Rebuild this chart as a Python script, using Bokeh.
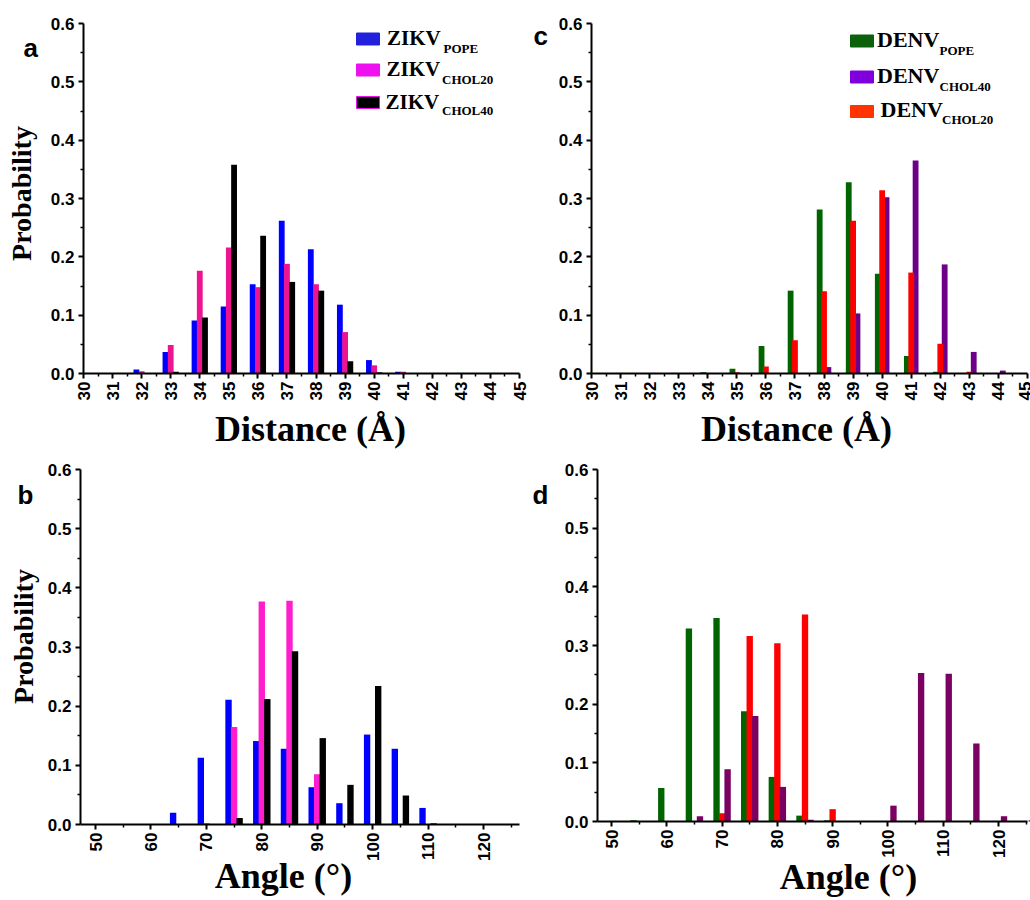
import math
from bokeh.plotting import figure
from bokeh.models import ColumnDataSource, FixedTicker, PrintfTickFormatter, Label, Range1d
from bokeh.layouts import column, row
from bokeh.transform import dodge
from bokeh.embed import file_html
from bokeh.resources import INLINE

# ---------------- data ----------------
dist_ticks = list(range(30, 46))
dist_minor = [t + 0.5 for t in range(30, 45)]
angle_ticks = [50, 60, 70, 80, 90, 100, 110, 120]
angle_minor = [55, 65, 75, 85, 95, 105, 115, 125]
prob_ticks = [0.0, 0.1, 0.2, 0.3, 0.4, 0.5, 0.6]
prob_minor = [0.05, 0.15, 0.25, 0.35, 0.45, 0.55]

zikv_dist_x = [32, 33, 34, 35, 36, 37, 38, 39, 40, 41]
zikv_dist_pope = [0.007, 0.037, 0.091, 0.115, 0.153, 0.262, 0.213, 0.118, 0.023, 0.003]
zikv_dist_chol20 = [0.004, 0.049, 0.176, 0.216, 0.148, 0.188, 0.153, 0.071, 0.014, 0.003]
zikv_dist_chol40 = [0.0, 0.003, 0.096, 0.358, 0.236, 0.157, 0.142, 0.021, 0.002, 0.0]

denv_dist_x = [34, 35, 36, 37, 38, 39, 40, 41, 42, 43, 44]
denv_dist_pope = [0.002, 0.008, 0.047, 0.142, 0.281, 0.328, 0.171, 0.030, 0.003, 0.0, 0.0]
denv_dist_chol20 = [0.0, 0.002, 0.012, 0.057, 0.141, 0.262, 0.314, 0.173, 0.051, 0.003, 0.0]
denv_dist_chol40 = [0.0, 0.0, 0.0, 0.0, 0.011, 0.103, 0.302, 0.365, 0.187, 0.037, 0.005]

zikv_ang_x = [65, 70, 75, 80, 85, 90, 95, 100, 105, 110]
zikv_ang_pope = [0.020, 0.113, 0.211, 0.141, 0.128, 0.063, 0.036, 0.152, 0.128, 0.028]
zikv_ang_chol20 = [0.0, 0.002, 0.165, 0.377, 0.378, 0.085, 0.0, 0.0, 0.0, 0.0]
zikv_ang_chol40 = [0.0, 0.0, 0.011, 0.212, 0.293, 0.146, 0.067, 0.234, 0.049, 0.002]

denv_ang_x = [55, 60, 65, 70, 75, 80, 85, 90, 95, 100, 105, 110, 115, 120, 125]
denv_ang_pope = [0.002, 0.057, 0.329, 0.347, 0.188, 0.076, 0.010, 0.002, 0, 0, 0, 0, 0, 0, 0]
denv_ang_chol20 = [0, 0, 0, 0.014, 0.316, 0.304, 0.353, 0.021, 0, 0, 0, 0, 0, 0, 0]
denv_ang_chol40 = [0, 0, 0.009, 0.089, 0.180, 0.059, 0.003, 0, 0, 0.027, 0.253, 0.252, 0.133, 0.009, 0.002]

# ---------------- style ----------------
SERIF = "Liberation Serif"
SANS = "Liberation Sans"
C_BLUE, C_PINK_A, C_PINK_B, C_BLACK = "#0000FF", "#EC1490", "#FF1ECB", "#000000"
C_GREEN, C_RED, C_PURPLE_C, C_PURPLE_D = "#006400", "#FF0000", "#6C0088", "#7A0062"
BASELINE_FIX = 0.34  # measured drift of alphabetic baseline, in em


def calib(geo):
    fx, fy, w, h = geo["fig"]
    (xv0, xp0), (xv1, xp1) = geo["xcal"]
    sx = (xp1 - xp0) / (xv1 - xv0)
    x_start = xv0 - (xp0 - fx) / sx
    (yv0, yp0), (yv1, yp1) = geo["ycal"]
    sy = (yp0 - yp1) / (yv1 - yv0)
    y_end = yv0 + (yp0 - fy) / sy
    geo.update(sx=sx, sy=sy, x_start=x_start, x_end=x_start + w / sx,
               y_end=y_end, y_start=y_end - h / sy)
    return geo


def to_data(geo, px, py):
    fx, fy, w, h = geo["fig"]
    return (geo["x_start"] + (px - fx) / geo["sx"], geo["y_end"] - (py - fy) / geo["sy"])


def make_fig(geo, xticks, xminor):
    calib(geo)
    fx, fy, w, h = geo["fig"]
    p = figure(width=w, height=h, output_backend="svg", toolbar_location=None, title=None,
               x_range=Range1d(geo["x_start"], geo["x_end"]),
               y_range=Range1d(geo["y_start"], geo["y_end"]), min_border=0)
    p.outline_line_color = None
    p.grid.visible = False
    p.background_fill_color = "white"
    p.border_fill_color = "white"
    xa, ya = p.xaxis[0], p.yaxis[0]
    for ax in (xa, ya):
        ax.axis_line_width = 2
        ax.major_tick_line_width = 2
        ax.minor_tick_line_width = 1.5
        ax.major_tick_out = 5
        ax.major_tick_in = 0
        ax.minor_tick_out = 3
        ax.minor_tick_in = 0
        ax.major_label_text_font = SANS
        ax.major_label_text_font_style = "bold"
        ax.major_label_text_font_size = "17px"
        ax.major_label_text_color = "black"
    L, R = geo["xaxis_px"]
    xb0 = to_data(geo, L, 0)[0]
    xb1 = to_data(geo, R, 0)[0]
    xa.ticker = FixedTicker(ticks=xticks, minor_ticks=xminor)
    xa.major_label_orientation = math.pi / 2
    xa.major_label_standoff = 3
    xa.fixed_location = 0
    xa.bounds = (xb0, xb1)
    ya.ticker = FixedTicker(ticks=prob_ticks, minor_ticks=prob_minor)
    ya.formatter = PrintfTickFormatter(format="%.1f")
    ya.major_label_standoff = 4
    ya.fixed_location = xb0
    ya.bounds = (0, 0.6)
    return p


def add_text(p, geo, px, py, text, font, size, align="left", angle=0.0):
    s = float(size.replace("px", ""))
    px = px - BASELINE_FIX * s * math.sin(angle)
    py = py - BASELINE_FIX * s * math.cos(angle)
    x, y = to_data(geo, px, py)
    p.add_layout(Label(x=x, y=y, text=text, text_font=font, text_font_size=size,
                       text_font_style="bold", text_align=align, text_baseline="alphabetic",
                       text_color="black", angle=angle))


def add_swatch(p, geo, px, py, fill, line=None):
    x, y = to_data(geo, px, py)
    p.rect(x=[x], y=[y], width=23, height=12, width_units="screen", height_units="screen",
           fill_color=fill, line_color=line if line else fill, line_width=1)


def add_legend(p, geo, rows, big, small):
    for (sx, sy, fill, line, name, sub, tx, tb, subx, subb) in rows:
        add_swatch(p, geo, sx, sy, fill, line)
        add_text(p, geo, tx, tb, name, SERIF, big)
        add_text(p, geo, subx, subb, sub, SERIF, small)


# page geometry (figure box, two calibration ticks per axis, axis-line extent)
geo_a = dict(fig=(0, 0, 531, 450), xcal=((30, 83), (45, 519)), ycal=((0, 373), (0.6, 23)), xaxis_px=(83, 519))
geo_c = dict(fig=(531, 0, 499, 450), xcal=((30, 591), (45, 1027)), ycal=((0, 373), (0.6, 23)), xaxis_px=(591, 1027))
geo_b = dict(fig=(0, 450, 531, 448), xcal=((50, 95), (120, 483)), ycal=((0, 824), (0.6, 469)), xaxis_px=(80, 519))
geo_d = dict(fig=(531, 450, 499, 448), xcal=((50, 611), (120, 998)), ycal=((0, 821), (0.6, 469)), xaxis_px=(597, 1027))

# ---------------- panel a ----------------
pa = make_fig(geo_a, dist_ticks, dist_minor)
src = ColumnDataSource(dict(x=zikv_dist_x, pope=zikv_dist_pope, c20=zikv_dist_chol20, c40=zikv_dist_chol40))
pa.vbar(x=dodge("x", -0.18, range=pa.x_range), top="pope", width=0.2, source=src, fill_color=C_BLUE, line_color=None)
pa.vbar(x=dodge("x", 0.0, range=pa.x_range), top="c20", width=0.2, source=src, fill_color=C_PINK_A, line_color=None)
pa.vbar(x=dodge("x", 0.18, range=pa.x_range), top="c40", width=0.2, source=src, fill_color=C_BLACK, line_color=None)
add_legend(pa, geo_a, [
    (367.5, 38.5, "#2020DD", None, "ZIKV", "POPE", 386.5, 45, 443, 52.5),
    (367.5, 69.5, "#EE10EE", None, "ZIKV", "CHOL20", 386, 76, 441.5, 83.5),
    (367.5, 102, "#000000", "#EE10EE", "ZIKV", "CHOL40", 385, 109, 441.5, 114.5),
], "21px", "13px")
add_text(pa, geo_a, 23, 56, "a", SANS, "26px")
add_text(pa, geo_a, 31, 193, "Probability", SERIF, "28px", align="center", angle=math.pi / 2)
add_text(pa, geo_a, 310, 441, "Distance (Å)", SERIF, "36px", align="center")

# ---------------- panel c ----------------
pc = make_fig(geo_c, dist_ticks, dist_minor)
src = ColumnDataSource(dict(x=denv_dist_x, pope=denv_dist_pope, c20=denv_dist_chol20, c40=denv_dist_chol40))
pc.vbar(x=dodge("x", -0.15, range=pc.x_range), top="pope", width=0.2, source=src, fill_color=C_GREEN, line_color=None)
pc.vbar(x=dodge("x", 0.15, range=pc.x_range), top="c40", width=0.2, source=src, fill_color=C_PURPLE_C, line_color=None)
pc.vbar(x=dodge("x", 0.0, range=pc.x_range), top="c20", width=0.2, source=src, fill_color=C_RED, line_color=None)
add_legend(pc, geo_c, [
    (861.5, 40.5, "#0B620B", None, "DENV", "POPE", 876.5, 46.5, 939, 54.5),
    (861.5, 76.5, "#7F00DD", None, "DENV", "CHOL40", 876.5, 82.5, 939, 90),
    (861.5, 111, "#FF3300", None, "DENV", "CHOL20", 880, 116.5, 941.5, 123),
], "22px", "13px")
add_text(pc, geo_c, 533, 44, "c", SANS, "26px")
add_text(pc, geo_c, 796, 441, "Distance (Å)", SERIF, "36px", align="center")

# ---------------- panel b ----------------
pb = make_fig(geo_b, angle_ticks, angle_minor)
src = ColumnDataSource(dict(x=zikv_ang_x, pope=zikv_ang_pope, c20=zikv_ang_chol20, c40=zikv_ang_chol40))
pb.vbar(x=dodge("x", -1.0, range=pb.x_range), top="pope", width=1.15, source=src, fill_color=C_BLUE, line_color=None)
pb.vbar(x=dodge("x", 0.0, range=pb.x_range), top="c20", width=1.15, source=src, fill_color=C_PINK_B, line_color=None)
pb.vbar(x=dodge("x", 1.0, range=pb.x_range), top="c40", width=1.15, source=src, fill_color=C_BLACK, line_color=None)
add_text(pb, geo_b, 17, 503, "b", SANS, "26px")
add_text(pb, geo_b, 33, 636, "Probability", SERIF, "28px", align="center", angle=math.pi / 2)
add_text(pb, geo_b, 283, 888, "Angle (°)", SERIF, "36px", align="center")

# ---------------- panel d ----------------
pd_ = make_fig(geo_d, angle_ticks, angle_minor)
src = ColumnDataSource(dict(x=denv_ang_x, pope=denv_ang_pope, c20=denv_ang_chol20, c40=denv_ang_chol40))
pd_.vbar(x=dodge("x", -1.0, range=pd_.x_range), top="pope", width=1.15, source=src, fill_color=C_GREEN, line_color=None)
pd_.vbar(x=dodge("x", 0.0, range=pd_.x_range), top="c20", width=1.15, source=src, fill_color=C_RED, line_color=None)
pd_.vbar(x=dodge("x", 1.0, range=pd_.x_range), top="c40", width=1.15, source=src, fill_color=C_PURPLE_D, line_color=None)
add_text(pd_, geo_d, 532, 503, "d", SANS, "26px")
add_text(pd_, geo_d, 848, 889, "Angle (°)", SERIF, "36px", align="center")

layout = column(row(pa, pc), row(pb, pd_))
open("out.html", "w").write(file_html(layout, INLINE))
